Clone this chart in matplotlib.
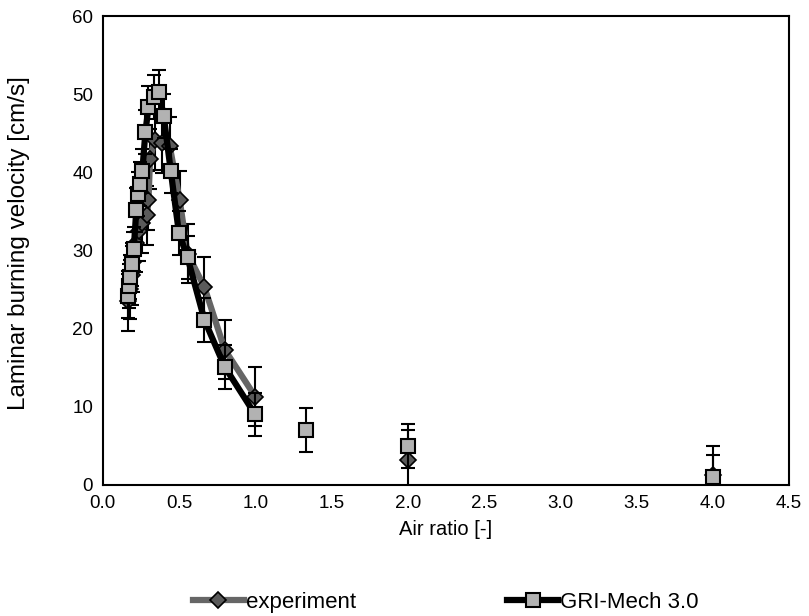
import numpy as np
import matplotlib.pyplot as plt

plt.rcParams['font.family'] = ['Liberation Sans', 'DejaVu Sans']

# experiment (diamonds)
exp_x = [0.167, 0.18, 0.19, 0.20, 0.22, 0.24, 0.26, 0.29, 0.30, 0.31, 0.34, 0.39,
         0.44, 0.505, 0.556, 0.667, 0.80, 1.0, 2.0, 4.0]
exp_y = [23.5, 25.0, 26.8, 28.5, 31.0, 32.5, 33.5, 34.5, 36.4, 41.7, 44.1, 43.7,
         43.3, 36.4, 29.6, 25.3, 17.3, 11.3, 3.2, 1.2]
exp_err = 3.8

# GRI-Mech 3.0 (squares)
gri_x = [0.165, 0.17, 0.18, 0.19, 0.204, 0.22, 0.23, 0.243, 0.26, 0.28, 0.30, 0.335,
         0.367, 0.40, 0.446, 0.50, 0.556, 0.667, 0.80, 1.0, 1.334, 2.0, 4.0]
gri_y = [24.2, 25.4, 26.6, 28.2, 30.2, 35.2, 37.2, 38.5, 40.2, 45.2, 48.3, 49.6,
         50.3, 47.2, 40.2, 32.2, 29.1, 21.1, 15.1, 9.0, 7.0, 5.0, 1.0]
gri_err = 2.8

# lines are only drawn up to air ratio 1.0
line_end = 1.0

xticks = np.arange(0, 4.51, 0.5)
yticks = np.arange(0, 61, 10)

fig = plt.figure(figsize=(8.09, 6.16), dpi=100)
ax = fig.add_axes([0.127, 0.213, 0.848, 0.761])

ex = np.array(exp_x)
ey = np.array(exp_y)
gx = np.array(gri_x)
gy = np.array(gri_y)

# experiment
ax.errorbar(ex, ey, yerr=exp_err, fmt='none', ecolor='black',
            elinewidth=1.5, capsize=5, capthick=1.5, zorder=2)
ax.plot(ex[ex <= line_end], ey[ex <= line_end], color='#666666', lw=4.5, zorder=3)
ax.plot(ex, ey, ls='none', marker='D', markersize=8.5,
        markerfacecolor='#5a5a5a', markeredgecolor='black', markeredgewidth=1.2,
        zorder=3)

# GRI-Mech 3.0
ax.errorbar(gx, gy, yerr=gri_err, fmt='none', ecolor='black',
            elinewidth=1.5, capsize=5, capthick=1.5, zorder=4)
ax.plot(gx[gx <= line_end], gy[gx <= line_end], color='black', lw=4.5, zorder=5)
ax.plot(gx, gy, ls='none', marker='s', markersize=10.5,
        markerfacecolor='#b2b2b2', markeredgecolor='black', markeredgewidth=1.5,
        zorder=5)

# legend handles
h1, = ax.plot([], [], color='#666666', lw=4.5, marker='D', markersize=8.5,
              markerfacecolor='#5a5a5a', markeredgecolor='black', markeredgewidth=1.2)
h2, = ax.plot([], [], color='black', lw=4.5, marker='s', markersize=10.5,
              markerfacecolor='#b2b2b2', markeredgecolor='black', markeredgewidth=1.5)

ax.set_xlim(0, 4.5)
ax.set_ylim(0, 60)
ax.set_xticks(xticks)
ax.set_xticklabels([f'{v:.1f}' for v in xticks])
ax.set_yticks(yticks)
ax.tick_params(labelsize=13.5, length=0, pad=7)
for s in ax.spines.values():
    s.set_linewidth(1.5)
    s.set_color('black')

ax.set_xlabel('Air ratio [-]', fontsize=14.5, labelpad=6)
ax.set_ylabel('Laminar burning velocity [cm/s]', fontsize=17.5)
ax.yaxis.set_label_coords(-0.106, 0.515)

ax.legend([h1, h2], ['experiment', 'GRI-Mech 3.0'], loc='upper center',
          bbox_to_anchor=(0.5, -0.21), ncol=2, frameon=False,
          fontsize=16, handlelength=2.3, handletextpad=0.1, columnspacing=6.8,
          borderaxespad=0)

fig.savefig('out.png', dpi=100)
